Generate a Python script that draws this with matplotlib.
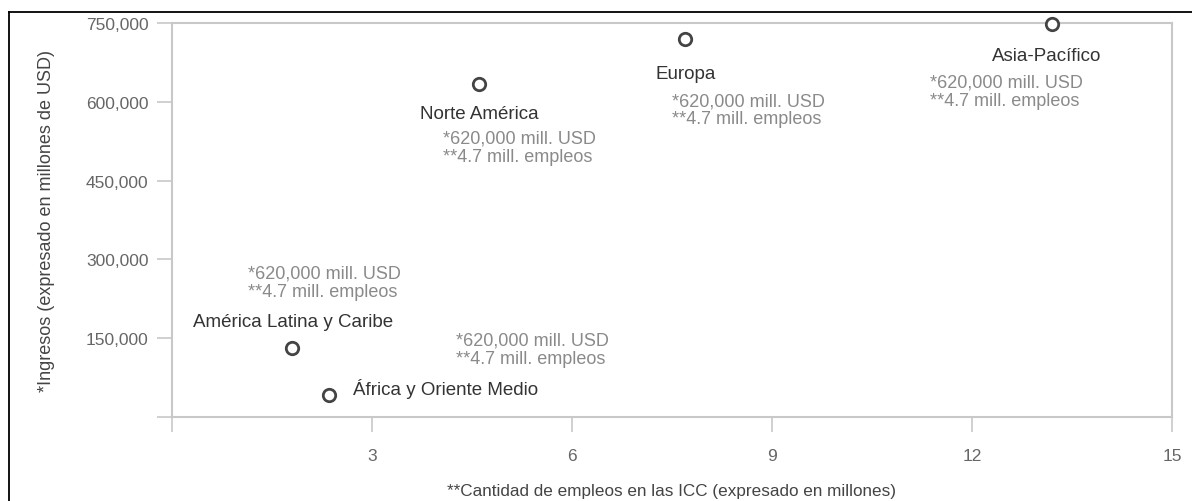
#!/usr/bin/env python3

from matplotlib import rcParams
from matplotlib.lines import Line2D
from matplotlib.pyplot import close, savefig, subplots

REGIONS = [
    "Asia-Pacífico",
    "Europa",
    "Norte América",
    "América Latina y Caribe",
    "África y Oriente Medio",
]
EMPLEOS = [13.2, 7.7, 4.6, 1.8, 2.35]
INGRESOS = [748000, 720000, 634000, 131000, 42000]
NOTA = "*620,000 mill. USD\n**4.7 mill. empleos"
X_TICKS = [0, 3, 6, 9, 12, 15]
X_TICK_LABELS = ["", "3", "6", "9", "12", "15"]
Y_TICKS = [0, 150000, 300000, 450000, 600000, 750000]
Y_TICK_LABELS = ["", "150,000", "300,000", "450,000", "600,000", "750,000"]

# offsets in pixels: (label dx, dy, ha), (note dx, dy)
LABEL_POS = {
    "Asia-Pacífico": ((-5, -31, "center"), (-122, -67)),
    "Europa": ((0, -35, "center"), (-13, -71)),
    "Norte América": ((1, -30, "center"), (-36, -63)),
    "América Latina y Caribe": ((1, 27, "center"), (-44, 66)),
    "África y Oriente Medio": ((24, 7, "left"), (127, 46)),
}

NARROW = ["DejaVu Sans Condensed", "Liberation Sans Narrow", "Liberation Sans"]
GRID = "#c8c8c8"


def main():
    rcParams["font.family"] = ["Liberation Sans", "DejaVu Sans"]
    (fig, ax) = subplots(figsize=(11.92, 5.02), dpi=100)
    fig.subplots_adjust(left=0.1443, right=0.9832, top=0.9522, bottom=0.1673)

    ax.scatter(
        EMPLEOS,
        INGRESOS,
        s=80,
        facecolor="white",
        edgecolor="#444444",
        linewidth=2.0,
        zorder=3,
        clip_on=False,
    )
    for (name, x, y) in zip(REGIONS, EMPLEOS, INGRESOS):
        ((ldx, ldy, ha), (ndx, ndy)) = LABEL_POS[name]
        ax.annotate(
            name,
            (x, y),
            xytext=(ldx, ldy),
            textcoords="offset pixels",
            ha=ha,
            va="center",
            fontsize=13.5,
            family=NARROW,
            color="#333333",
        )
        ax.annotate(
            NOTA,
            (x, y),
            xytext=(ndx, ndy),
            textcoords="offset pixels",
            ha="left",
            va="center",
            fontsize=13,
            linespacing=1.1,
            color="#8a8a8a",
        )

    ax.set_xlim(0, 15)
    ax.set_ylim(0, 750000)
    ax.set_xticks(X_TICKS)
    ax.set_xticklabels(X_TICK_LABELS)
    ax.set_yticks(Y_TICKS)
    ax.set_yticklabels(Y_TICK_LABELS)
    for spine in ax.spines.values():
        spine.set_color(GRID)
        spine.set_linewidth(1.5)
    ax.tick_params(
        axis="both",
        length=11,
        width=1.2,
        color=GRID,
        labelcolor="#666666",
        labelsize=12.5,
    )
    ax.tick_params(axis="x", pad=11)
    ax.tick_params(axis="y", pad=6)
    for label in ax.get_xticklabels() + ax.get_yticklabels():
        label.set_family(NARROW)

    ax.set_xlabel(
        "**Cantidad de empleos en las ICC (expresado en millones)",
        fontsize=12.3,
        family=NARROW,
        color="#444444",
        labelpad=15,
    )
    ax.set_ylabel(
        "*Ingresos (expresado en millones de USD)",
        fontsize=13,
        family=NARROW,
        color="#444444",
        labelpad=22,
    )

    # black frame around the picture (top and left edges)
    x0 = 9 / 1192
    y0 = 1 - 13 / 502
    fig.add_artist(Line2D([x0, 1], [y0, y0], color="black", linewidth=1.3))
    fig.add_artist(Line2D([x0, x0], [0, y0], color="black", linewidth=1.3))

    savefig("out.png", dpi=100)
    close()


if __name__ == "__main__":
    main()
